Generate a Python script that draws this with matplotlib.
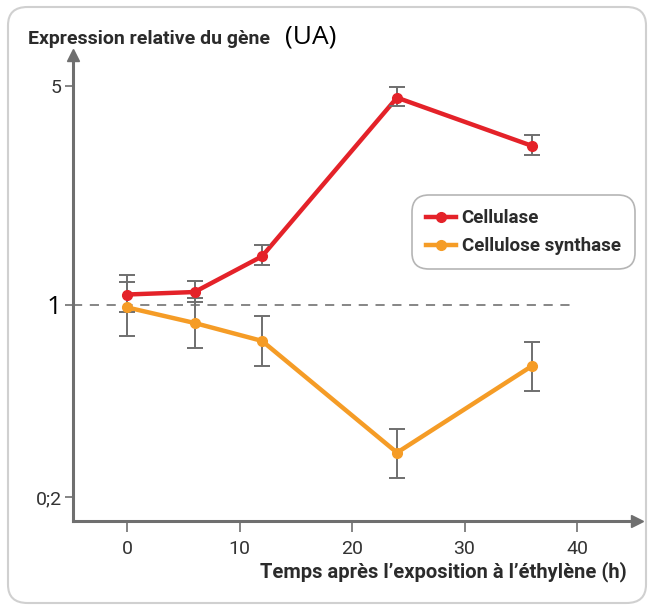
import numpy as np
import matplotlib.pyplot as plt
from matplotlib.lines import Line2D
from matplotlib.patches import FancyBboxPatch

hours = [0, 6, 12, 24, 36]
cellulase = [1.08, 1.10, 1.43, 4.59, 3.22]
cellulase_lo = [0.94, 1.02, 1.34, 4.31, 3.01]
cellulase_hi = [1.25, 1.19, 1.55, 4.98, 3.49]
synthase = [0.98, 0.86, 0.74, 0.29, 0.60]
synthase_lo = [0.77, 0.70, 0.60, 0.234, 0.486]
synthase_hi = [1.18, 1.05, 0.91, 0.354, 0.735]

y_ticks = [0.2, 1, 5]
y_ticklabels = ['0;2', '1', '5']
x_ticks = [0, 10, 20, 30, 40]

RED = '#e42229'
ORANGE = '#f59c26'
GREY = '#6f6f6f'
plt.rcParams['font.family'] = ['Roboto', 'DejaVu Sans']

# the drawing is log-like but with a taller upper half than lower half
UP = 219 / np.log10(5)
DOWN = 192 / np.log10(5)


def fwd(v):
    l = np.log10(np.clip(np.asarray(v, float), 1e-9, None))
    return np.where(l >= 0, l * UP, l * DOWN)


def inv(y):
    y = np.asarray(y, float)
    return np.where(y >= 0, 10 ** (y / UP), 10 ** (y / DOWN))


fig = plt.figure(figsize=(6.51, 6.10), dpi=100)
fig.patches.append(FancyBboxPatch((8 / 651, 7 / 610), 638 / 651, 596 / 610,
                                  boxstyle='round,pad=0,rounding_size=0.03',
                                  transform=fig.transFigure, facecolor='white',
                                  edgecolor='#d0d0d0', linewidth=1.5, zorder=-5))

ax = fig.add_axes([73 / 651, 89 / 610, 564 / 651, 466 / 610])
ax.patch.set_alpha(0)
ax.set_yscale('function', functions=(fwd, inv))
ax.set_xlim(-4.8, 45.33)
ax.set_ylim(0.1635, 6.28)

for vals, lo, hi, col in [(cellulase, cellulase_lo, cellulase_hi, RED),
                          (synthase, synthase_lo, synthase_hi, ORANGE)]:
    v = np.array(vals)
    err = [v - np.array(lo), np.array(hi) - v]
    ax.plot(hours, v, color=col, lw=3.2, zorder=2, solid_capstyle='round')
    ax.errorbar(hours, v, yerr=err, fmt='none', ecolor=GREY, elinewidth=1.4,
                capsize=5.5, capthick=1.4, zorder=3)
    ax.plot(hours, v, 'o', color=col, ms=7, zorder=4)

ax.axhline(1, xmax=(40 + 4.8) / 50.13, color='#666666', lw=1.1,
           dashes=(6, 5), zorder=1)

for s in ['top', 'right']:
    ax.spines[s].set_visible(False)
for s in ['left', 'bottom']:
    ax.spines[s].set_color(GREY)
    ax.spines[s].set_linewidth(2.2)
ax.plot(1, 0, '>', color=GREY, ms=9, transform=ax.transAxes, clip_on=False)
ax.plot(0, 1, '^', color=GREY, ms=9, transform=ax.transAxes, clip_on=False)

ax.set_xticks(x_ticks)
ax.set_xticklabels([str(t) for t in x_ticks])
ax.set_yticks(y_ticks)
ax.set_yticklabels(y_ticklabels)
ax.yaxis.set_minor_locator(plt.NullLocator())
ax.tick_params(axis='x', length=8, width=1.2, color=GREY, labelsize=14,
               labelcolor='#333333', pad=6)
ax.tick_params(axis='y', length=6, width=1.2, color=GREY, labelsize=14,
               labelcolor='#333333', pad=2)
for lab in ax.get_yticklabels():
    if lab.get_text() == '1':
        lab.set_fontsize(19)
        lab.set_color('black')
        lab.set_fontfamily(['Open Sans', 'DejaVu Sans'])

fig.text(28 / 651, 1 - 39 / 610, 'Expression relative du gène', fontsize=14,
         fontweight='bold', color='#2b2b2b', va='center')
fig.text(285 / 651, 1 - 37 / 610, '(UA)', fontsize=19, color='black',
         va='center', family=['Open Sans', 'DejaVu Sans'])
fig.text(627 / 651, 1 - 572 / 610, 'Temps après l\u2019exposition à l\u2019éthylène (h)',
         fontsize=14.5, fontweight='bold', color='#2b2b2b', ha='right', va='center')

handles = [Line2D([], [], color=RED, lw=3.2, marker='o', ms=7),
           Line2D([], [], color=ORANGE, lw=3.2, marker='o', ms=7)]
leg = fig.legend(handles, ['Cellulase', 'Cellulose synthase'],
                 loc='upper left', bbox_to_anchor=(412 / 651, 1 - 195 / 610),
                 borderaxespad=0, prop={'weight': 'bold', 'size': 13.5},
                 handlelength=1.6, handletextpad=0.3, labelspacing=0.55,
                 borderpad=0.75, fancybox=True, framealpha=1, edgecolor='#b5b5b5')
leg.get_frame().set_linewidth(1.2)
leg.get_frame().set_boxstyle('round', pad=0, rounding_size=0.9)
for t in leg.get_texts():
    t.set_color('#2b2b2b')

fig.savefig('out.png', dpi=100)
